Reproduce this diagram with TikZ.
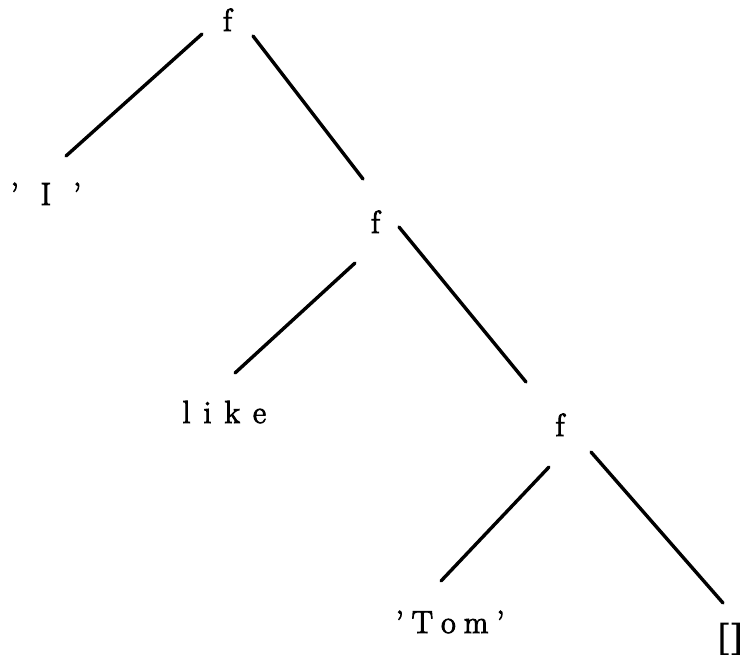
\documentclass[tikz,border=0pt]{standalone}
\usepackage{fontspec}
\newfontfamily\treefont[FakeBold=3,Ligatures=TeX]{Latin Modern Roman}
\begin{document}
\begin{tikzpicture}[x=1pt,y=-1pt,
  lbl/.style={inner sep=0pt, font=\treefont\fontsize{32}{38}\selectfont},
  edge/.style={line width=3.4pt, line cap=round}]
\useasboundingbox (0,0) rectangle (749,654);
% labels
\node[lbl, anchor=base] (f1) at (227.5,31) {f};
\node[lbl, anchor=base] (f2) at (375.5,233) {f};
\node[lbl, anchor=base] (f3) at (560,436) {f};
\node[lbl, anchor=base west] (I) at (10.5,205) {’\kern22pt I\kern22pt’};
\node[lbl, anchor=base west] (like) at (182.3,423) {l\kern13pt i\kern13pt k\kern13pt e};
\node[lbl, anchor=base west] (tom) at (395.5,633) {’\kern8pt T\kern8pt o\kern8pt m\kern8pt’};
\node[lbl, anchor=base west] (nil) at (715.5,647) {\scalebox{1.6}[1]{[\kern2pt]}};
% connector ends
\coordinate (f1l) at (202,34);
\coordinate (Iend) at (66,156);
\coordinate (f1r) at (253,36);
\coordinate (f2top) at (363,179);
\coordinate (f2l) at (355,263);
\coordinate (likeend) at (235,373);
\coordinate (f2r) at (399,227);
\coordinate (f3top) at (526,382);
\coordinate (f3l) at (549,467);
\coordinate (tomend) at (441,581);
\coordinate (f3r) at (591,452);
\coordinate (nilend) at (723,603);
% connectors
\draw[edge] (f1l) -- (Iend);
\draw[edge] (f1r) -- (f2top);
\draw[edge] (f2l) -- (likeend);
\draw[edge] (f2r) -- (f3top);
\draw[edge] (f3l) -- (tomend);
\draw[edge] (f3r) -- (nilend);
\end{tikzpicture}
\end{document}
